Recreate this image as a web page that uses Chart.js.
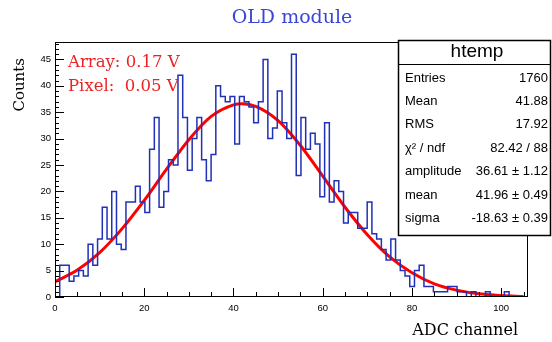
<!DOCTYPE html>
<html>
<head>
<meta charset="utf-8">
<script src="https://cdn.jsdelivr.net/npm/chart.js@4.4.1/dist/chart.umd.min.js"></script>
<style>
  html, body { margin: 0; padding: 0; background: #fff; }
  #wrap { width: 552px; height: 342px; }
</style>
</head>
<body>
<div id="wrap"><canvas id="adc_chart" width="552" height="342"></canvas></div>
<script>
// histogram: 100 bins from 0 to 106
const bin_low = 0;
const bin_width = 1.06;
const bin_counts = [
    0, 6, 6, 3, 4, 5, 4, 10, 6, 11,
    17, 11, 20, 10, 9, 18, 18, 21, 18, 16,
    28, 34, 17, 20, 26, 25, 42, 34, 24, 30,
    34, 26, 22, 27, 40, 38, 37, 38, 29, 38,
    37, 36, 33, 37, 45, 30, 32, 39, 33, 30,
    46, 23, 34, 28, 31, 29, 19, 33, 18, 22,
    20, 14, 16, 16, 13, 13, 18, 12, 11, 9,
    7, 11, 7, 5, 4, 2, 5, 6, 2, 2,
    1, 1, 1, 2, 2, 1, 1, 0, 1, 0,
    0, 1, 0, 0, 0, 1, 0, 0, 0, 0
];

// red fit curve
const fit_x = [0, 5, 10, 15, 20, 25, 30, 35, 40, 42, 45, 50, 55, 60, 65, 70, 75, 80, 85, 90, 95, 100, 105];
const fit_y = [2.9, 5.1, 8.4, 12.9, 18.3, 24.2, 29.8, 34.2, 36.4, 36.6, 36.1, 33.4, 28.7, 22.9, 17.0, 11.8, 7.6, 4.6, 2.5, 1.3, 0.6, 0.3, 0.1];

const x_ticks = [0, 20, 40, 60, 80, 100];
const y_ticks = [0, 5, 10, 15, 20, 25, 30, 35, 40, 45];

const stats_title = "htemp";
const stats_names = ["Entries", "Mean", "RMS", "\u03c7\u00b2 / ndf", "amplitude", "mean", "sigma"];
const stats_values = ["1760", "41.88", "17.92", "82.42 / 88", "36.61 \u00b1 1.12", "41.96 \u00b1 0.49", "-18.63 \u00b1 0.39"];
const note_lines = ["Array: 0.17 V", "Pixel:  0.05 V"];

const hist_points = [{x: bin_low, y: 0}];
bin_counts.forEach((v, i) => hist_points.push({x: bin_low + i * bin_width, y: v}));
hist_points.push({x: bin_low + bin_counts.length * bin_width, y: 0});

const fit_points = fit_x.map((v, i) => ({x: v, y: fit_y[i]}));

const serif = "'DejaVu Serif', serif";
const sans = "'Liberation Sans', Arial, sans-serif";

const root_look = {
    id: 'root_look',
    afterDatasetsDraw(chart) {
        const {ctx, chartArea: a, scales: {x, y}} = chart;
        ctx.save();
        ctx.strokeStyle = '#000';
        ctx.lineWidth = 1;
        ctx.strokeRect(a.left + 0.5, a.top + 0.5, a.right - a.left - 1, a.bottom - a.top - 1);
        ctx.beginPath();
        for (let v = 0; v <= 48; v++) {
            const py = Math.round(y.getPixelForValue(v)) + 0.5;
            ctx.moveTo(a.left, py);
            ctx.lineTo(a.left + (v % 5 ? 4 : 9), py);
        }
        for (let v = 0; v <= 105; v += 5) {
            const px = Math.round(x.getPixelForValue(v)) + 0.5;
            ctx.moveTo(px, a.bottom);
            ctx.lineTo(px, a.bottom - (v % 20 ? 5 : 9));
        }
        ctx.stroke();
        ctx.restore();
    },
    afterDraw(chart) {
        const ctx = chart.ctx;
        ctx.save();
        // title
        ctx.fillStyle = '#3a46d8';
        ctx.font = '19px ' + serif;
        ctx.textAlign = 'center';
        ctx.textBaseline = 'middle';
        ctx.fillText('OLD module', 292, 18);
        // axis titles
        ctx.fillStyle = '#000';
        ctx.font = '16px ' + serif;
        ctx.textAlign = 'right';
        ctx.fillText('ADC channel', 518, 331);
        ctx.font = '15px ' + serif;
        ctx.save();
        ctx.translate(20, 58);
        ctx.rotate(-Math.PI / 2);
        ctx.fillText('Counts', 0, 0);
        ctx.restore();
        // notes
        ctx.fillStyle = '#ee2222';
        ctx.font = '16.5px ' + serif;
        ctx.textAlign = 'left';
        note_lines.forEach((t, i) => ctx.fillText(t, 68, 63 + i * 24));
        // stats box
        ctx.fillStyle = '#fff';
        ctx.fillRect(398, 40, 153, 195);
        ctx.strokeStyle = '#000';
        ctx.lineWidth = 1.5;
        ctx.strokeRect(398.5, 40.5, 152, 195);
        ctx.lineWidth = 1;
        ctx.beginPath();
        ctx.moveTo(398, 64.5);
        ctx.lineTo(551, 64.5);
        ctx.stroke();
        ctx.fillStyle = '#000';
        ctx.font = '19px ' + sans;
        ctx.textAlign = 'center';
        ctx.fillText(stats_title, 477, 52);
        ctx.font = '13px ' + sans;
        stats_names.forEach((t, i) => {
            const ty = 78 + i * 23.4;
            ctx.textAlign = 'left';
            ctx.fillText(t, 405, ty);
            ctx.textAlign = 'right';
            ctx.fillText(stats_values[i], 548, ty);
        });
        ctx.restore();
    }
};

new Chart(document.getElementById('adc_chart').getContext('2d'), {
    type: 'line',
    data: {
        datasets: [{
            label: 'htemp',
            data: hist_points,
            stepped: 'before',
            borderColor: '#2030b8',
            borderWidth: 1.5,
            pointRadius: 0,
            fill: false
        }, {
            label: 'fit',
            data: fit_points,
            borderColor: '#ff0000',
            borderWidth: 3,
            pointRadius: 0,
            cubicInterpolationMode: 'monotone',
            fill: false
        }]
    },
    options: {
        responsive: false,
        animation: false,
        layout: {padding: {left: 0, top: 42, right: 24, bottom: 0}},
        plugins: {legend: {display: false}, tooltip: {enabled: false}},
        scales: {
            x: {
                type: 'linear',
                min: 0,
                max: 106,
                afterBuildTicks: s => { s.ticks = x_ticks.map(v => ({value: v})); },
                afterFit: s => { s.height = 45; },
                grid: {display: false, drawTicks: false},
                border: {display: false},
                ticks: {color: '#000', padding: 6, maxRotation: 0, autoSkip: false, font: {family: sans, size: 9.5}}
            },
            y: {
                type: 'linear',
                min: 0,
                max: 48.3,
                afterBuildTicks: s => { s.ticks = y_ticks.map(v => ({value: v})); },
                afterFit: s => { s.width = 55; },
                grid: {display: false, drawTicks: false},
                border: {display: false},
                ticks: {color: '#000', padding: 4, autoSkip: false, font: {family: sans, size: 9.5}}
            }
        }
    },
    plugins: [root_look]
});
</script>
</body>
</html>
